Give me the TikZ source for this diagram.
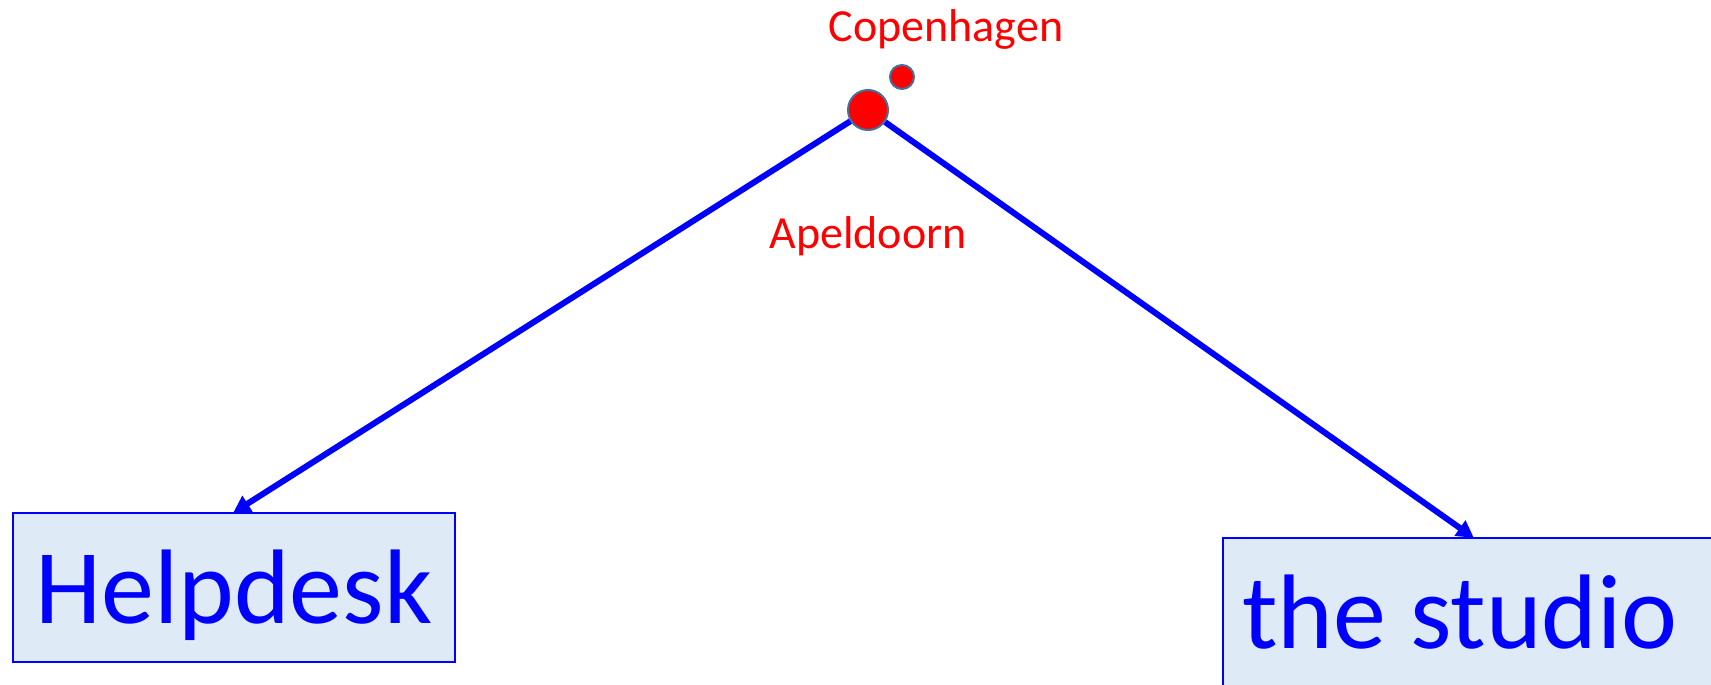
\documentclass[tikz,border=0pt]{standalone}
\usepackage{fontspec}
\setmainfont{Carlito}
\usetikzlibrary{arrows.meta}
\definecolor{boxfill}{HTML}{DEEAF6}
\definecolor{dotline}{HTML}{41719C}
\begin{document}
\begin{tikzpicture}[x=1pt,y=-1pt,
  dotstyle/.style={circle,fill=red,draw=dotline,line width=2pt,inner sep=0pt},
  citylabel/.style={text=red,font=\fontsize{46}{50}\selectfont,anchor=base,inner sep=0pt},
  destbox/.style={rectangle,draw=blue,line width=1.5pt,fill=boxfill,inner sep=0pt,
    minimum height=149pt,text=blue,font=\fontsize{106}{110}\selectfont,
    text height=90pt,text depth=19pt},
  flow/.style={draw=blue,line width=6pt,-{Triangle[length=17pt,width=18pt]},shorten >=-1pt}]
\useasboundingbox (0,0) rectangle (1711,685);
\node[destbox,minimum width=442pt] (help) at (234,587.5) {Helpdesk};
\node[destbox,minimum width=500pt] (studio) at (1473,612.5) {the studio\hspace*{26pt}};
\node[dotstyle,minimum size=24pt] (cph) at (902,77) {};
\node[dotstyle,minimum size=40pt] (apd) at (868,110) {};
\node[citylabel] (cphlabel) at (946,42) {Copenhagen};
\node[citylabel] (apdlabel) at (868,248) {Apeldoorn};
\draw[flow] (apd) -- (help.north);
\draw[flow] (apd) -- (studio.north);
\end{tikzpicture}
\end{document}
